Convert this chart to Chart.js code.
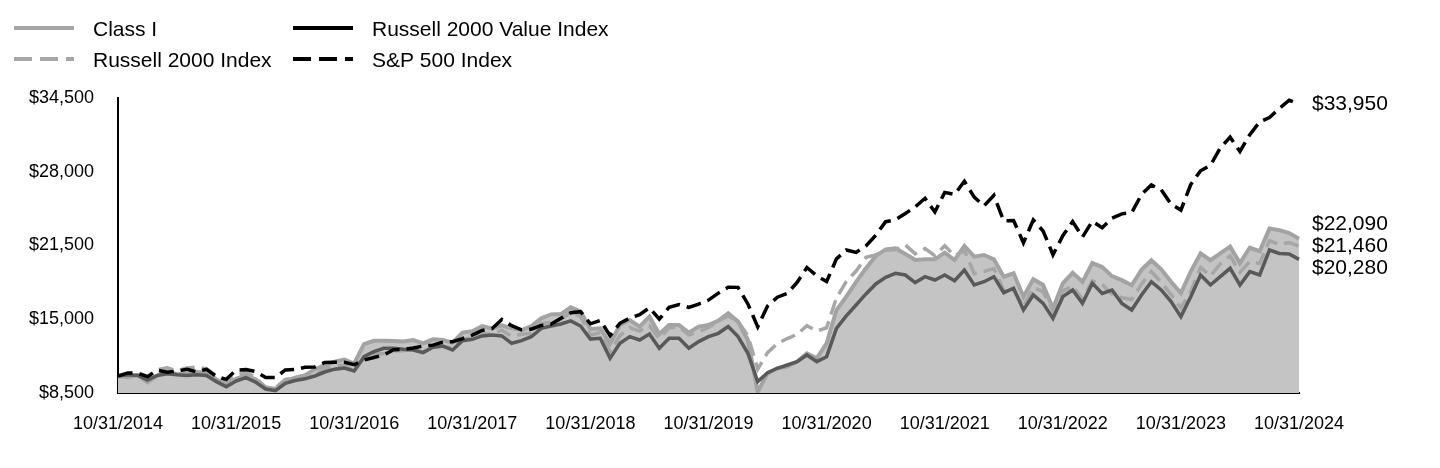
<!DOCTYPE html>
<html>
<head>
<meta charset="utf-8">
<script src="https://cdn.jsdelivr.net/npm/chart.js@4"></script>
<style>
  html, body { margin: 0; padding: 0; background: #fff; }
  canvas { display: block; }
</style>
</head>
<body>
<canvas id="growth" width="1440" height="468"></canvas>
<script>
'use strict';

// x axis tick labels, one per year
const tickLabels = ['10/31/2014', '10/31/2015', '10/31/2016', '10/31/2017', '10/31/2018',
  '10/31/2019', '10/31/2020', '10/31/2021', '10/31/2022', '10/31/2023', '10/31/2024'];

// month-end categories, Oct 2014 .. Oct 2024
const months = [];
for (let i = 0; i <= 120; i++) {
  const m = (9 + i) % 12;
  const yr = 2014 + Math.floor((9 + i) / 12);
  months.push((m + 1) + '/' + yr);
}

// growth of $10,000
const classI = [
  10000, 9900, 10100, 9450, 10050, 10400, 10150, 10200, 10350, 10300, 9700, 9200, 9750,
  10050, 9700, 9000, 8850, 9550, 9850, 10050, 10600, 10950, 11250, 11450, 11100,
  12800, 13100, 13100, 13080, 13050, 13170, 12880, 13230, 13170, 12940, 13820, 13950,
  14400, 14200, 14460, 14200, 14050, 14400, 15080, 15430, 15460, 16050, 15670, 14150,
  14200, 12880, 14490, 14930, 14350, 15230, 13700, 14490, 14490, 13820, 14350, 14490,
  14880, 15520, 14790, 13170, 8620, 10230, 10680, 10820, 11260, 12000, 11560, 12880,
  15800, 17000, 18300, 19490, 20580, 21160, 21250, 20750, 20220, 20280, 20280, 20870,
  20220, 21460, 20520, 20660, 20280, 18750, 19050, 16990, 18520, 18020, 15960, 18170,
  19100, 18300, 19950, 19600, 18800, 18450, 18000, 19350, 20200, 19400, 18300, 17300,
  19200, 20800, 20200, 20800, 21400, 19950, 21300, 21000, 23000, 22850, 22600, 22090
];

const russell2000 = [
  10000, 10000, 10290, 9960, 10550, 10730, 10460, 10700, 10780, 10650, 9980, 9490, 10030,
  10360, 9840, 8970, 8970, 9690, 9840, 10060, 10060, 10660, 10850, 10970, 10440,
  11610, 11930, 11980, 12210, 12230, 12360, 12110, 12530, 12620, 12460, 13240, 13350,
  13740, 13680, 14040, 13500, 13670, 13790, 14630, 14730, 14990, 15630, 15260, 13600,
  13820, 12180, 13550, 14250, 13950, 14430, 13300, 14240, 14330, 13620, 13900, 14270,
  14860, 15280, 14790, 13550, 10600, 12060, 12850, 13300, 13670, 14440, 13960, 14250,
  16870, 18330, 19250, 20450, 20660, 21090, 21140, 21550, 20770, 21230, 20610, 21480,
  20590, 21050, 19020, 19220, 19460, 17530, 17560, 16120, 17800, 17430, 15760, 17500,
  17910, 16750, 18380, 18070, 17200, 16900, 16740, 18100, 19210, 18250, 17170, 16000,
  17440, 19570, 18810, 19870, 20580, 19130, 20090, 19910, 21930, 21600, 21750, 21460
];

const russell2000Value = [
  10000, 10100, 10050, 9650, 10050, 10200, 10100, 10050, 10100, 10050, 9500, 9050, 9550,
  9850, 9450, 8850, 8700, 9350, 9600, 9750, 10000, 10350, 10600, 10700, 10450,
  11700, 12140, 12440, 12440, 12350, 12290, 12060, 12530, 12640, 12290, 13110, 13230,
  13530, 13610, 13530, 12880, 13110, 13460, 14200, 14400, 14580, 14850, 14400, 13250,
  13320, 11560, 12880, 13470, 13170, 13700, 12440, 13320, 13320, 12440, 13030, 13470,
  13760, 14350, 13470, 12000, 9500, 10290, 10680, 10970, 11260, 11850, 11260, 11700,
  14200, 15300, 16260, 17230, 18110, 18700, 19050, 18900, 18230, 18750, 18460, 18900,
  18400, 19340, 18020, 18310, 18750, 17340, 17730, 15820, 17140, 16400, 15080, 16990,
  17580, 16400, 18170, 17280, 17580, 16400, 15820, 17140, 18310, 17580, 16550, 15230,
  16990, 18900, 18020, 18750, 19490, 18020, 19200, 18900, 21100, 20800, 20750, 20280
];

const sp500 = [
  10000, 10270, 10240, 9940, 10510, 10340, 10440, 10580, 10370, 10590, 9950, 9700, 10520,
  10560, 10390, 9870, 9860, 10530, 10570, 10760, 10790, 11190, 11200, 11200, 11000,
  11410, 11630, 11850, 12320, 12340, 12470, 12640, 12720, 12980, 13020, 13290, 13600,
  14020, 14170, 14990, 14430, 14070, 14120, 14460, 14550, 15090, 15580, 15670, 14600,
  14900, 13550, 14640, 15110, 15400, 16020, 15010, 16060, 16300, 16040, 16340, 16690,
  17300, 17820, 17810, 16350, 14330, 16170, 16940, 17270, 18250, 19560, 18820, 18320,
  20320, 21100, 20890, 21470, 22410, 23600, 23770, 24320, 24900, 25660, 24460, 26180,
  26000, 27160, 25760, 24990, 25920, 23660, 23700, 21740, 23750, 22780, 20680, 22360,
  23610, 22250, 23640, 23070, 23910, 24290, 24390, 26000, 26840, 26410, 25150, 24620,
  26870, 28090, 28560, 30090, 31060, 29790, 31270, 32390, 32780, 33580, 34300, 33950
];

const FONT = 'Arial, "Liberation Sans", sans-serif';
const money = v => '$' + Number(v).toLocaleString('en-US');

// legend (2 columns) and end-of-line value labels
const overlay = {
  id: 'overlay',
  afterDraw(chart) {
    const ctx = chart.ctx;
    const area = chart.chartArea;
    const ys = chart.scales.y;

    ctx.save();
    ctx.font = '21px ' + FONT;
    ctx.textBaseline = 'alphabetic';
    ctx.textAlign = 'left';
    ctx.fillStyle = '#000';
    const items = [
      { text: 'Class I', color: '#a6a6a6', dash: [], x: 14, y: 28 },
      { text: 'Russell 2000 Index', color: '#a6a6a6', dash: [18, 8], x: 14, y: 59 },
      { text: 'Russell 2000 Value Index', color: '#000', dash: [], x: 293, y: 28 },
      { text: 'S&P 500 Index', color: '#000', dash: [18, 8], x: 293, y: 59 }
    ];
    items.forEach(it => {
      ctx.beginPath();
      ctx.setLineDash(it.dash);
      ctx.strokeStyle = it.color;
      ctx.lineWidth = 4;
      ctx.moveTo(it.x, it.y);
      ctx.lineTo(it.x + 60, it.y);
      ctx.stroke();
      ctx.fillText(it.text, it.x + 79, it.y + 7.5);
    });
    ctx.setLineDash([]);

    // end labels, spread apart so they do not overlap
    const last = months.length - 1;
    const ends = [sp500, classI, russell2000, russell2000Value].map(a => ({
      v: a[last], y: ys.getPixelForValue(a[last])
    }));
    const lower = ends.slice(1).sort((a, b) => a.y - b.y);
    const gap = 22;
    if (lower[1].y - lower[0].y < gap) lower[0].y = lower[1].y - gap;
    if (lower[2].y - lower[1].y < gap) lower[2].y = lower[1].y + gap;
    ctx.font = '21px ' + FONT;
    ctx.textBaseline = 'middle';
    ends.forEach(e => ctx.fillText(money(e.v), area.right + 13, e.y));
    ctx.restore();
  }
};

const ctx = document.getElementById('growth').getContext('2d');

new Chart(ctx, {
  type: 'line',
  data: {
    labels: months,
    datasets: [{
      label: 'S&P 500 Index',
      data: sp500,
      borderColor: '#000',
      borderWidth: 3.5,
      borderDash: [15, 7],
      order: 0
    }, {
      label: 'Russell 2000 Value Index',
      data: russell2000Value,
      borderColor: '#595959',
      borderWidth: 3.5,
      order: 1
    }, {
      label: 'Russell 2000 Index',
      data: russell2000,
      borderColor: '#a6a6a6',
      borderWidth: 3.5,
      borderDash: [15, 7],
      order: 2
    }, {
      label: 'Class I',
      data: classI,
      borderColor: '#a3a3a3',
      borderWidth: 4,
      backgroundColor: '#c4c4c4',
      fill: 'start',
      order: 3
    }]
  },
  options: {
    responsive: false,
    animation: false,
    events: [],
    layout: { padding: { top: 98, right: 141, left: 0, bottom: 0 } },
    elements: {
      point: { radius: 0 },
      line: { tension: 0, borderJoinStyle: 'miter', borderCapStyle: 'butt' }
    },
    plugins: {
      legend: { display: false },
      tooltip: { enabled: false }
    },
    scales: {
      x: {
        type: 'category',
        offset: false,
        grid: { display: false, drawTicks: false },
        border: { display: true, color: '#000', width: 2 },
        afterFit(scale) { scale.height = 75; },
        ticks: {
          autoSkip: false,
          maxRotation: 0,
          minRotation: 0,
          padding: 20,
          color: '#000',
          font: { family: FONT, size: 18 },
          callback: (v, i) => (i % 12 === 0 ? tickLabels[i / 12] : '')
        }
      },
      y: {
        min: 8500,
        max: 34500,
        grid: { display: false, drawTicks: false },
        border: { display: true, color: '#000', width: 2 },
        afterFit(scale) { scale.width = 118; },
        ticks: {
          stepSize: 6500,
          padding: 24,
          color: '#000',
          font: { family: FONT, size: 18 },
          callback: v => money(v)
        }
      }
    }
  },
  plugins: [overlay]
});
</script>
</body>
</html>
